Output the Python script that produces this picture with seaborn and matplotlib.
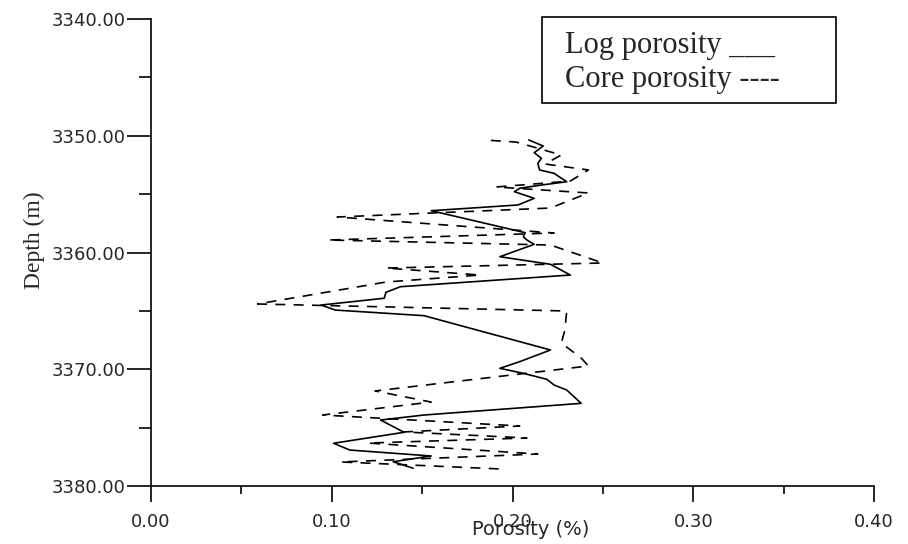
import pandas as pd
import matplotlib.pyplot as plt
import matplotlib.patches as patches
from matplotlib.ticker import MultipleLocator, FormatStrFormatter
import seaborn as sns

# log porosity (solid)
log_por = [0.209, 0.217, 0.212, 0.216, 0.214, 0.215, 0.223, 0.230, 0.216, 0.204,
           0.201, 0.212, 0.203, 0.155, 0.207, 0.206, 0.208, 0.212, 0.193, 0.221,
           0.232, 0.138, 0.130, 0.129, 0.094, 0.102, 0.151, 0.221, 0.204, 0.193,
           0.206, 0.219, 0.223, 0.230, 0.238, 0.151, 0.127, 0.140, 0.101, 0.110,
           0.155, 0.134, 0.145]
log_depth = [3350.36, 3350.88, 3351.45, 3351.93, 3352.36, 3352.93, 3353.22, 3353.94, 3354.22, 3354.50,
             3354.79, 3355.36, 3355.93, 3356.42, 3358.30, 3358.65, 3358.93, 3359.30, 3360.36, 3361.01,
             3361.93, 3362.93, 3363.41, 3363.92, 3364.50, 3364.93, 3365.41, 3368.35, 3369.35, 3369.92,
             3370.35, 3370.86, 3371.35, 3371.78, 3372.92, 3373.92, 3374.35, 3375.40, 3376.34, 3376.92,
             3377.43, 3377.92, 3378.48]

# core porosity (dashed)
core_por = [0.188, 0.202, 0.227, 0.218, 0.242, 0.232, 0.191, 0.242, 0.221, 0.103,
            0.223, 0.098, 0.221, 0.250, 0.130, 0.182, 0.130, 0.059, 0.230, 0.229,
            0.227, 0.238, 0.242, 0.124, 0.155, 0.095, 0.204, 0.140, 0.208, 0.120,
            0.214, 0.105, 0.193]
core_depth = [3350.40, 3350.54, 3351.65, 3352.42, 3352.93, 3353.88, 3354.39, 3354.90, 3356.19, 3356.96,
              3358.33, 3358.93, 3359.36, 3360.90, 3361.33, 3361.93, 3362.53, 3364.41, 3365.01, 3366.64,
              3367.75, 3369.04, 3369.72, 3371.86, 3372.81, 3373.92, 3374.86, 3375.37, 3375.89, 3376.32,
              3377.26, 3377.94, 3378.54]

log_df = pd.DataFrame({'porosity': log_por, 'depth': log_depth})
core_df = pd.DataFrame({'porosity': core_por, 'depth': core_depth})

sns.set_style('ticks')
plt.rcParams['font.family'] = ['DejaVu Sans']
serif = ['Liberation Serif', 'DejaVu Serif']

fig = plt.figure(figsize=(9.08, 5.44), dpi=100)
ax = fig.add_axes([151/908, 1-486/544, 723/908, 467/544])

sns.lineplot(data=log_df, x='porosity', y='depth', sort=False, estimator=None,
             orient='y', color='black', linewidth=1.2, ax=ax)
sns.lineplot(data=core_df, x='porosity', y='depth', sort=False, estimator=None,
             orient='y', color='black', linewidth=1.2, ax=ax)
ax.lines[1].set_linestyle((0, (6.0, 5.0)))

ax.set_xlim(0, 0.40)
ax.set_ylim(3380, 3340)
sns.despine(ax=ax)
for s in ['left', 'bottom']:
    ax.spines[s].set_linewidth(1.2)
    ax.spines[s].set_color('black')

ax.xaxis.set_major_locator(MultipleLocator(0.10))
ax.xaxis.set_minor_locator(MultipleLocator(0.05))
ax.yaxis.set_major_locator(MultipleLocator(10))
ax.yaxis.set_minor_locator(MultipleLocator(5))
ax.xaxis.set_major_formatter(FormatStrFormatter('%.2f'))
ax.yaxis.set_major_formatter(FormatStrFormatter('%.2f'))

ax.tick_params(axis='x', which='major', length=11.5, width=1.2, pad=8, labelsize=13, color='black')
ax.tick_params(axis='x', which='minor', length=6, width=1.2, color='black')
ax.tick_params(axis='y', which='major', length=17, width=1.2, pad=1, labelsize=13, color='black')
ax.tick_params(axis='y', which='minor', length=8.5, width=1.2, color='black')

ax.set_xlabel('Porosity (%)', fontsize=14)
ax.xaxis.set_label_coords(0.525, -0.073)
ax.set_ylabel('Depth (m)', fontsize=17, family=serif)
ax.yaxis.set_label_coords(-0.147, 0.527)

box = patches.Rectangle((542/908, 1-103/544), 294/908, 86/544, transform=fig.transFigure,
                        fill=False, edgecolor='black', linewidth=1.2)
fig.patches.append(box)
fig.text(565/908, 1-46/544, 'Log porosity ___', fontsize=22, va='center', family=serif)
fig.text(565/908, 1-79/544, 'Core porosity ----', fontsize=22, va='center', family=serif)

fig.savefig('out.png', dpi=100)
